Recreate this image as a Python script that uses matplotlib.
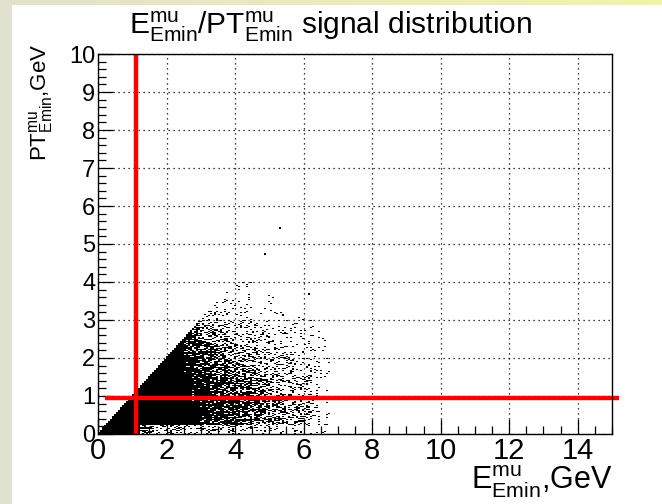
import numpy as np
import matplotlib
matplotlib.use("Agg")
import matplotlib.pyplot as plt
from matplotlib.ticker import MultipleLocator
from matplotlib.patches import Rectangle

plt.rcParams['font.family'] = ['Liberation Sans', 'DejaVu Sans']
plt.rcParams['mathtext.fontset'] = 'custom'
plt.rcParams['mathtext.rm'] = 'Liberation Sans'
plt.rcParams['mathtext.it'] = 'Liberation Sans'
plt.rcParams['mathtext.bf'] = 'Liberation Sans:bold'

# ---------------- data ----------------
# scatter density (% of area covered by points) in 0.25 x 0.25 GeV cells
E_bin_edges = [0.25 * k for k in range(28)]      # 0 .. 6.75 GeV
PT_bin_edges = [0.25 * k for k in range(18)]     # 0 .. 4.25 GeV
density_pct = [  # rows: PT bins from bottom (0-0.25) upward; cols: E bins
    [100]*5 + [60,35,30,30,30,30,30,30,28,25,25,22,20,18,16,13,11,10,9,8,6,3],
    [100]*11 + [95,90,88,82,75,70,64,57,50,45,38,33,27,22,18,8],
    [100]*11 + [97,93,90,85,80,75,69,62,55,48,41,35,29,24,19,8],
    [100]*11 + [97,93,90,85,80,75,69,62,55,48,41,35,29,24,19,8],
    [100]*11 + [95,90,86,80,75,70,64,57,50,43,37,31,25,21,17,7],
    [100]*11 + [93,87,82,75,68,63,56,50,43,37,31,26,22,18,14,6],
    [100]*10 + [97,90,83,76,68,62,55,48,42,36,31,26,22,18,15,11,4],
    [100]*10 + [95,86,77,68,60,54,47,40,34,29,25,21,18,15,12,10,4],
    [100]*10 + [90,80,70,60,50,44,38,33,28,24,20,17,14,12,10,8,3],
    [100]*10 + [85,72,60,50,42,35,29,24,20,17,15,13,11,9,8,6,2],
    [0]*10 + [75,60,48,38,30,25,21,18,15,13,11,10,8,7,6,5,1],
    [0]*11 + [45,35,27,21,18,15,12,10,9,8,7,6,5,4,3,0],
    [0]*12 + [22,17,14,11,9,8,7,6,5,4,3,2,1,0,0],
    [0]*13 + [10,9,8,7,6,5,4,3,2,1,0,0,0,0],
    [0]*14 + [6,6,5,4,3,2,1,0,0,0,0,0,0],
    [0]*15 + [4,3,2,1] + [0]*8,
    [0]*27,
]
# kinematic edge of the populated region (PT <= E)
edge_E = [0.0, 7.0]
edge_PT = [0.0, 7.0]
# isolated points
outlier_E = [5.32, 4.88, 6.15]
outlier_PT = [5.42, 4.74, 3.68]
# red cut lines
cut_E = 1.12
cut_E_PT_range = [0.0, 10.0]
cut_PT = 0.96
cut_PT_E_range = [0.2, 15.2]

x_ticks = [0, 2, 4, 6, 8, 10, 12, 14]
y_ticks = [0, 1, 2, 3, 4, 5, 6, 7, 8, 9, 10]

# ---------------- figure ----------------
W, H = 662, 504
fig = plt.figure(figsize=(W / 100, H / 100), dpi=100)
fig.patch.set_facecolor('white')

# canvas frame decoration
fig.patches.append(Rectangle((0, 0), 12 / W, 1, transform=fig.transFigure,
                             facecolor='#e1e1cf', edgecolor='none', zorder=0))
bg = fig.add_axes([12 / W, 1 - 5 / H, 1 - 12 / W, 5 / H])
grad = np.linspace(0, 1, 256)
c0 = np.array([0.89, 0.89, 0.80]); c1 = np.array([0.95, 0.95, 0.68])
bg.imshow((c0[None, :] * (1 - grad[:, None]) + c1[None, :] * grad[:, None])[None, :, :],
          aspect='auto', extent=[0, 1, 0, 1])
bg.axis('off')

ax = fig.add_axes([98 / W, 70 / H, 514 / W, 380 / H])

# scatter rendering of the density table (deterministic hash dithering)
xmin, xmax, ymin, ymax = 0, 15, 0, 10
dot_w = 2 * (xmax - xmin) / 514      # each dot ~2 px wide, 1 px high
dot_h = (ymax - ymin) / 380
E_e = np.array(E_bin_edges); P_e = np.array(PT_bin_edges)
nx = int(round(E_e[-1] / dot_w)); ny = int(round(P_e[-1] / dot_h))
xc = (np.arange(nx) + 0.5) * dot_w
yc = (np.arange(ny) + 0.5) * dot_h
X, Y = np.meshgrid(xc, yc)
ix = np.clip(np.searchsorted(E_e, X, 'right') - 1, 0, len(E_e) - 2)
iy = np.clip(np.searchsorted(P_e, Y, 'right') - 1, 0, len(P_e) - 2)
D = np.array(density_pct, dtype=float) / 100.0
dens = D[iy, ix]
I, J = np.meshgrid(np.arange(nx, dtype=np.uint64), np.arange(ny, dtype=np.uint64))
M = np.uint64(0xFFFFFFFF)
h = ((I * np.uint64(0x9E3779B1)) & M) ^ ((J * np.uint64(0x85EBCA77) + np.uint64(0x27D4EB2F)) & M)
h = h ^ (h >> np.uint64(16))
h = (h * np.uint64(0x85EBCA6B)) & M
h = h ^ (h >> np.uint64(13))
h = (h * np.uint64(0xC2B2AE35)) & M
h = h ^ (h >> np.uint64(16))
thr = h.astype(float) / 4294967296.0
on = (thr < dens) & (Y <= np.interp(X, edge_E, edge_PT) + dot_h)
rgba = np.zeros((ny, nx, 4))
rgba[on, 3] = 1.0
ax.imshow(rgba, extent=[0, nx * dot_w, 0, ny * dot_h], origin='lower',
          interpolation='nearest', aspect='auto', zorder=2)
ax.plot(outlier_E, outlier_PT, 's', ms=1.8, color='k', mew=0, zorder=2)

# red cut lines
ax.plot([cut_E, cut_E], cut_E_PT_range, color='#ff0000', lw=3.2, zorder=3,
        clip_on=False, solid_capstyle='butt')
ax.plot(cut_PT_E_range, [cut_PT, cut_PT], color='#ff0000', lw=3.2, zorder=3,
        clip_on=False, solid_capstyle='butt')

ax.set_xlim(xmin, xmax)
ax.set_ylim(ymin, ymax)
ax.set_xticks(x_ticks)
ax.set_yticks(y_ticks)
ax.xaxis.set_minor_locator(MultipleLocator(0.5))
ax.yaxis.set_minor_locator(MultipleLocator(0.2))
ax.set_axisbelow(True)
ax.grid(True, which='major', color='black', linestyle=(0, (1, 3)), linewidth=0.9)
ax.tick_params(which='major', direction='in', length=11, width=0.9, top=False, right=False)
ax.tick_params(which='minor', direction='in', length=5.5, width=0.9, top=False, right=False)
ax.tick_params(axis='x', labelsize=21, pad=2)
ax.tick_params(axis='y', labelsize=17, pad=2)
for s in ax.spines.values():
    s.set_linewidth(1.0)
    s.set_zorder(4)

fig.text(0.5, 1 - 34 / H,
         r'$\mathrm{E^{mu}_{Emin}/PT^{mu}_{Emin}}$ signal distribution',
         ha='center', va='baseline', fontsize=21.5)
fig.text(612 / W, 4 / H, r'$\mathrm{E^{mu}_{Emin}}$,GeV', ha='right', va='bottom', fontsize=22)
fig.text(41 / W, 1 - 44 / H, r'$\mathrm{PT^{mu}_{Emin}}$,GeV', ha='center', va='top',
         rotation=90, fontsize=16)

fig.savefig('out.png', dpi=100)
